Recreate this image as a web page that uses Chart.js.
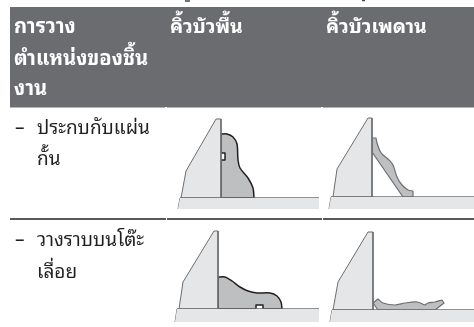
<!DOCTYPE html>
<html>
<head>
<meta charset="utf-8">
<title>การวางตำแหน่งของชิ้นงาน</title>
<style>
  html, body { margin: 0; padding: 0; background: #fff; }
  canvas { display: block; }
</style>
<script src="https://cdn.jsdelivr.net/npm/chart.js@4"></script>
</head>
<body>
<canvas id="c" width="474" height="327"></canvas>
<script>
/* table text */
const headCol1 = ['การวาง', 'ตำแหน่งของชิ้น', 'งาน'];
const headCol2 = ['คิ้วบัวพื้น'];
const headCol3 = ['คิ้วบัวเพดาน'];
const row1Text = ['ประกบกับแผ่น', 'กั้น'];
const row2Text = ['วางราบบนโต๊ะ', 'เลื่อย'];

/* outlines. a repeated point keeps a sharp corner */
const band = [[10,7],[474,7],[474,107],[10,107],[10,7]];

const table1 = [[180,198],[319,198],[319,209],[178,209],[180,198]];
const fence1 = [[216,119],[221,119],[221,198],[181,198],[186,171],[216,119]];
const mould1 = [[221,134],[221,134],[227,134],[233,137],[237,144],[238,160],[240,168],[248,178],[253,188],[254,198],[254,198],[221,198],[221,198],[221,160],[221,160],[225,160],[225,160],[225,153],[225,153],[221,153],[221,153],[221,134]];

const table2 = [[331,197],[474,197],[474,209],[329,209],[331,197]];
const fence2 = [[368,118],[372,118],[372,197],[333,197],[337,169],[368,118]];
const mould2 = [[372,138],[372,138],[376,138],[376,138],[377,143],[380,151],[383,155],[388,159],[393,165],[397,177],[402,185],[408,190],[413,191],[413,191],[413,197],[413,197],[403,197],[403,197],[372,152],[372,152],[372,138]];

const table3 = [[177,309],[319,309],[319,322],[175,322],[177,309]];
const fence3 = [[214,231],[218,231],[218,309],[179,309],[183,282],[214,231]];
const mould3 = [[218,277],[218,277],[225,277],[232,281],[240,287],[248,291],[257,293],[270,293],[277,296],[281,302],[282,309],[282,309],[263,309],[263,309],[263,305],[263,305],[256,305],[256,305],[256,309],[256,309],[218,309],[218,309],[218,277]];

const table4 = [[332,310],[474,310],[474,322],[330,322],[332,310]];
const fence4 = [[368,232],[373,232],[373,310],[333,310],[338,282],[368,232]];
const mould4 = [[373,303],[373,303],[378,299],[378,299],[383,303],[395,305],[405,303],[417,302],[425,305],[425,305],[428,303],[435,302],[442,300],[442,300],[444,303],[444,303],[435,310],[435,310],[378,310],[378,310],[373,303]];

const topRule = [[[10,107.5],[165,107.5]], [[167,107.5],[321,107.5]], [[323,107.5],[474,107.5]]];
const midRule = [[[10,219],[166,219]], [[167,219],[322,219]], [[323,219],[474,219]]];
// leftovers of the line above, cut off by the crop
const cropMarks = [[[185,1],[190,1]], [[362,0.5],[365,0.5]]];

const toPts = a => a.map(p => ({ x: p[0], y: p[1] }));

function shape(pts, fillCol, lineCol, lineW, tension) {
  return {
    data: toPts(pts),
    showLine: true,
    pointRadius: 0,
    borderColor: lineCol,
    borderWidth: lineW,
    backgroundColor: fillCol,
    fill: 'shape',
    tension: tension || 0,
    borderJoinStyle: 'round',
  };
}

function rule(pts, col, w) {
  return { data: toPts(pts), showLine: true, pointRadius: 0, borderColor: col, borderWidth: w, fill: false };
}

const LIGHT = '#e5e6e7', MID = '#bdbfc1', GREY = '#6d6e71', INK = '#231f20';

const datasets = [
  shape(band, '#6b6c70', '#6b6c70', 0),
  ...topRule.map(r => rule(r, '#b4b5b7', 1)),
  ...midRule.map(r => rule(r, INK, 1.3)),
  ...cropMarks.map(r => rule(r, '#444', 1.5)),

  shape(table1, LIGHT, 'rgba(0,0,0,0)', 0), rule(table1.slice(0, 2), GREY, 1.5), rule([table1[3], table1[4]], GREY, 1),
  shape(fence1, LIGHT, GREY, 1),
  shape(mould1, MID, INK, 1.5, 0.3),

  shape(table2, LIGHT, 'rgba(0,0,0,0)', 0), rule(table2.slice(0, 2), GREY, 1.5), rule([table2[3], table2[4]], GREY, 1),
  shape(fence2, LIGHT, GREY, 1),
  shape(mould2, MID, GREY, 1.2, 0.3),

  shape(table3, LIGHT, 'rgba(0,0,0,0)', 0), rule(table3.slice(0, 2), GREY, 1.5), rule([table3[3], table3[4]], GREY, 1),
  shape(fence3, LIGHT, GREY, 1),
  shape(mould3, MID, INK, 1.5, 0.3),

  shape(table4, LIGHT, 'rgba(0,0,0,0)', 0), rule(table4.slice(0, 2), GREY, 1.5), rule([table4[3], table4[4]], GREY, 1),
  shape(fence4, LIGHT, GREY, 1),
  shape(mould4, MID, GREY, 1.2, 0.3),
];

const FONT = '"Noto Sans Thai Looped", Tahoma, Loma, "Noto Sans", "DejaVu Sans", sans-serif';

// table text goes on top of the shapes
const tableText = {
  id: 'tableText',
  afterDatasetsDraw(chart) {
    const { ctx, scales: { x, y } } = chart;
    const put = (s, px, py) => ctx.fillText(s, x.getPixelForValue(px), y.getPixelForValue(py));
    ctx.save();
    ctx.textBaseline = 'alphabetic';
    ctx.fillStyle = '#fff';
    ctx.font = 'bold 20.2px ' + FONT;
    headCol1.forEach((s, i) => put(s, 14, [33, 65, 95][i]));
    ctx.font = 'bold 19.5px ' + FONT;
    put(headCol2[0], 170, 33);
    put(headCol3[0], 326, 33);

    ctx.fillStyle = INK;
    ctx.font = '19px ' + FONT;
    put('–', 15, 134);
    row1Text.forEach((s, i) => put(s, 37, [134, 165][i]));
    put('–', 15, 246);
    row2Text.forEach((s, i) => put(s, 37, [246, 278][i]));
    ctx.restore();
  },
};

new Chart(document.getElementById('c'), {
  type: 'scatter',
  data: { datasets },
  plugins: [tableText],
  options: {
    responsive: false,
    animation: false,
    layout: { padding: 0 },
    plugins: { legend: { display: false }, tooltip: { enabled: false } },
    scales: {
      x: { type: 'linear', min: 0, max: 474, display: false },
      y: { type: 'linear', min: 0, max: 327, reverse: true, display: false },
    },
  },
});
</script>
</body>
</html>
